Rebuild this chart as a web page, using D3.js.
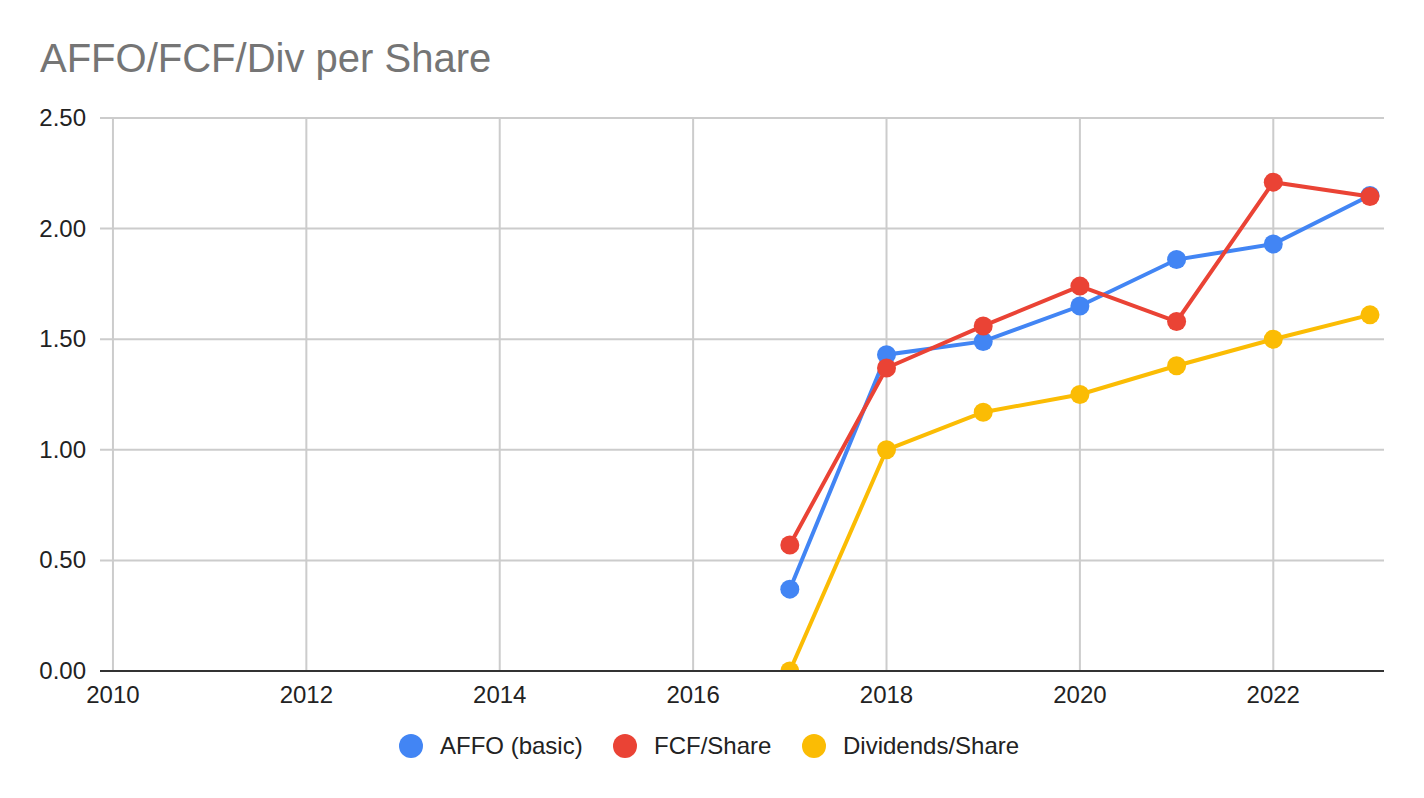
<!DOCTYPE html>
<html>
<head>
<meta charset="utf-8">
<script src="https://cdn.jsdelivr.net/npm/d3@7"></script>
<style>
  body { margin: 0; background: #fff; }
  text { font-family: "Liberation Sans", Arial, sans-serif; }
</style>
</head>
<body>
<div id="chart"></div>
<script>
// data
const years = [2017, 2018, 2019, 2020, 2021, 2022, 2023];
const affo = [0.37, 1.43, 1.49, 1.65, 1.86, 1.93, 2.15];
const fcf = [0.57, 1.37, 1.56, 1.74, 1.58, 2.21, 2.145];
const dividends = [0.00, 1.00, 1.17, 1.25, 1.38, 1.50, 1.61];
const seriesNames = ["AFFO (basic)", "FCF/Share", "Dividends/Share"];
const seriesColors = ["#4285F4", "#EA4335", "#FBBC04"];
const xTicks = [2010, 2012, 2014, 2016, 2018, 2020, 2022];
const yTicks = [0, 0.5, 1, 1.5, 2, 2.5];

const W = 1424, H = 798;
const plot = { left: 100, right: 1384, top: 118, bottom: 671 };

const svg = d3.select("#chart").append("svg")
    .attr("width", W)
    .attr("height", H);

// x range is slightly wider than 2010..2023
const x = d3.scaleLinear()
    .domain([2009.866, 2023.145])
    .range([plot.left, plot.right]);

const y = d3.scaleLinear()
    .domain([0, 2.5])
    .range([plot.bottom, plot.top]);

// title
svg.append("text")
    .attr("x", 40)
    .attr("y", 72)
    .attr("fill", "#757575")
    .style("font-size", "40px")
    .text("AFFO/FCF/Div per Share");

// gridlines
svg.append("g")
    .selectAll("line")
    .data(yTicks.filter(d => d > 0))
    .join("line")
    .attr("x1", plot.left)
    .attr("x2", plot.right)
    .attr("y1", d => y(d))
    .attr("y2", d => y(d))
    .attr("stroke", "#cccccc")
    .attr("stroke-width", 2);

svg.append("g")
    .selectAll("line")
    .data(xTicks)
    .join("line")
    .attr("x1", d => x(d))
    .attr("x2", d => x(d))
    .attr("y1", plot.top)
    .attr("y2", plot.bottom)
    .attr("stroke", "#cccccc")
    .attr("stroke-width", 2);

// y labels
svg.append("g")
    .selectAll("text")
    .data(yTicks)
    .join("text")
    .attr("x", 86)
    .attr("y", d => y(d) + 8)
    .attr("text-anchor", "end")
    .attr("fill", "#222")
    .style("font-size", "24px")
    .text(d => d3.format(".2f")(d));

// x labels
svg.append("g")
    .selectAll("text")
    .data(xTicks)
    .join("text")
    .attr("x", d => x(d))
    .attr("y", 703)
    .attr("text-anchor", "middle")
    .attr("fill", "#222")
    .style("font-size", "24px")
    .text(d => d);

// clip so the zero point is cut by the baseline
svg.append("clipPath")
    .attr("id", "plot-clip")
    .append("rect")
    .attr("x", plot.left)
    .attr("y", 0)
    .attr("width", plot.right - plot.left + 20)
    .attr("height", plot.bottom);

const series = [affo, fcf, dividends].map((vals, i) => ({
    name: seriesNames[i],
    color: seriesColors[i],
    points: vals.map((v, j) => ({ year: years[j], value: v }))
}));

const line = d3.line()
    .x(d => x(d.year))
    .y(d => y(d.value));

const marks = svg.append("g").attr("clip-path", "url(#plot-clip)");

series.forEach(s => {
    const g = marks.append("g");
    g.append("path")
        .attr("d", line(s.points))
        .attr("fill", "none")
        .attr("stroke", s.color)
        .attr("stroke-width", 4);
    g.selectAll("circle")
        .data(s.points)
        .join("circle")
        .attr("cx", d => x(d.year))
        .attr("cy", d => y(d.value))
        .attr("r", 9.5)
        .attr("fill", s.color);
});

// baseline
svg.append("line")
    .attr("x1", plot.left)
    .attr("x2", plot.right)
    .attr("y1", y(0))
    .attr("y2", y(0))
    .attr("stroke", "#333333")
    .attr("stroke-width", 2);

// legend
const legendX = [411, 625, 814];
const legend = svg.append("g");
series.forEach((s, i) => {
    legend.append("circle")
        .attr("cx", legendX[i])
        .attr("cy", 746)
        .attr("r", 12)
        .attr("fill", s.color);
    legend.append("text")
        .attr("x", legendX[i] + 29)
        .attr("y", 754)
        .attr("fill", "#222")
        .style("font-size", "24px")
        .text(s.name);
});
</script>
</body>
</html>
